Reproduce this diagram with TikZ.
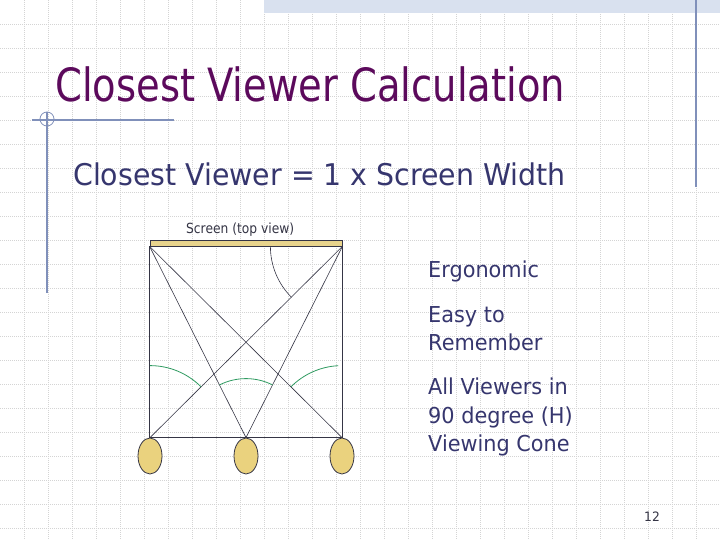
\documentclass[tikz,border=0pt]{standalone}
\usepackage{fontspec}
\setmainfont{DejaVu Sans}
\newfontfamily\titlefont{DejaVu Sans}[FakeStretch=0.84]
\newfontfamily\bodyfont{DejaVu Sans}[FakeStretch=0.95]
\newfontfamily\smallfont{DejaVu Sans}[FakeStretch=0.88]
\usetikzlibrary{shapes.geometric}

\definecolor{titlepurple}{HTML}{5C0A5C}
\definecolor{bodyblue}{HTML}{36366E}
\definecolor{rulerblue}{HTML}{8090BA}
\definecolor{gridgray}{HTML}{D4D4D4}
\definecolor{bandblue}{HTML}{D9E1EF}
\definecolor{screentan}{HTML}{E8D48C}
\definecolor{headtan}{HTML}{EAD27E}
\definecolor{conegreen}{HTML}{2E9A60}
\definecolor{linegray}{HTML}{353545}

\begin{document}
\begin{tikzpicture}[x=1bp,y=-1bp]
% Styles
\tikzset{
    gridline/.style={gridgray, line width=0.8bp, dash pattern=on 1bp off 1bp},
    ruler/.style={rulerblue, line width=1.1bp},
    viewer/.style={ellipse, draw=linegray, line width=0.8bp, fill=headtan,
        minimum width=24bp, minimum height=36bp, inner sep=0pt},
    screenbar/.style={rectangle, draw=linegray, line width=0.8bp, fill=screentan,
        minimum width=192bp, minimum height=6bp, inner sep=0pt},
    sight/.style={linegray, line width=0.6bp},
    cone/.style={conegreen, line width=0.8bp},
    bodytext/.style={anchor=base west, inner sep=0pt, text=bodyblue,
        font=\bodyfont\fontsize{22}{28}\selectfont}
}
\useasboundingbox (0,0) rectangle (720,540);
\fill[white] (0,0) rectangle (720,540);

% Background grid
\foreach \x in {24,48,...,696}
    \draw[gridline] (\x,0) -- (\x,540);
\foreach \y in {24,48,...,528}
    \draw[gridline] (0,\y) -- (720,\y);
\fill[bandblue] (264,0) rectangle (720,13);

% Rulers
\draw[ruler] (696,0) -- (696,187);
\draw[ruler] (32,120) -- (174,120);
\draw[ruler] (47,112) -- (47,293);
\draw[ruler, line width=0.8bp] (47,119) circle[radius=7];

% Texts
\node[anchor=base west, inner sep=0pt, text=titlepurple,
    font=\titlefont\fontsize{46}{46}\selectfont] (title) at (55,102) {Closest Viewer Calculation};
\node[anchor=base west, inner sep=0pt, text=bodyblue,
    font=\bodyfont\fontsize{30}{30}\selectfont] (rule) at (73,186) {Closest Viewer = 1 x Screen Width};
\node[anchor=base west, inner sep=0pt, text=linegray,
    font=\smallfont\fontsize{14}{14}\selectfont] (label) at (186,234) {Screen (top view)};

\node[bodytext] (ergo) at (428,278) {Ergonomic};
\node[bodytext] (easya) at (428,322) {Easy to};
\node[bodytext] (easyb) at (428,350) {Remember};
\node[bodytext] (alla) at (428,394) {All Viewers in};
\node[bodytext] (allb) at (428,423) {90 degree (H)};
\node[bodytext] (allc) at (428,451) {Viewing Cone};

\node[text=linegray, inner sep=0pt, font=\bodyfont\fontsize{13}{13}\selectfont] (page) at (652,517) {12};

% Screen and viewers
\node[screenbar] (S) at (246,243) {};
\node[viewer] (V1) at (150,456) {};
\node[viewer] (V2) at (246,456) {};
\node[viewer] (V3) at (342,456) {};

% Connections
\draw[linegray, line width=1bp] (S.south west) rectangle (V3.north);
\draw[sight] (V1.north) -- (S.south east);
\draw[sight] (V3.north) -- (S.south west);
\draw[sight] (V2.north) -- (S.south west);
\draw[sight] (V2.north) -- (S.south east);

% Angles
\draw[sight] (S.south east) ++(180:72) arc[start angle=180, end angle=135, radius=72];
\draw[cone] (V1.north) ++(-90:72) arc[start angle=-90, end angle=-45, radius=72];
\draw[cone] (V2.north) ++(-116.6:59) arc[start angle=-116.6, end angle=-63.4, radius=59];
\draw[cone] (V3.north) ++(-135:72) arc[start angle=-135, end angle=-93, radius=72];
\end{tikzpicture}
\end{document}
